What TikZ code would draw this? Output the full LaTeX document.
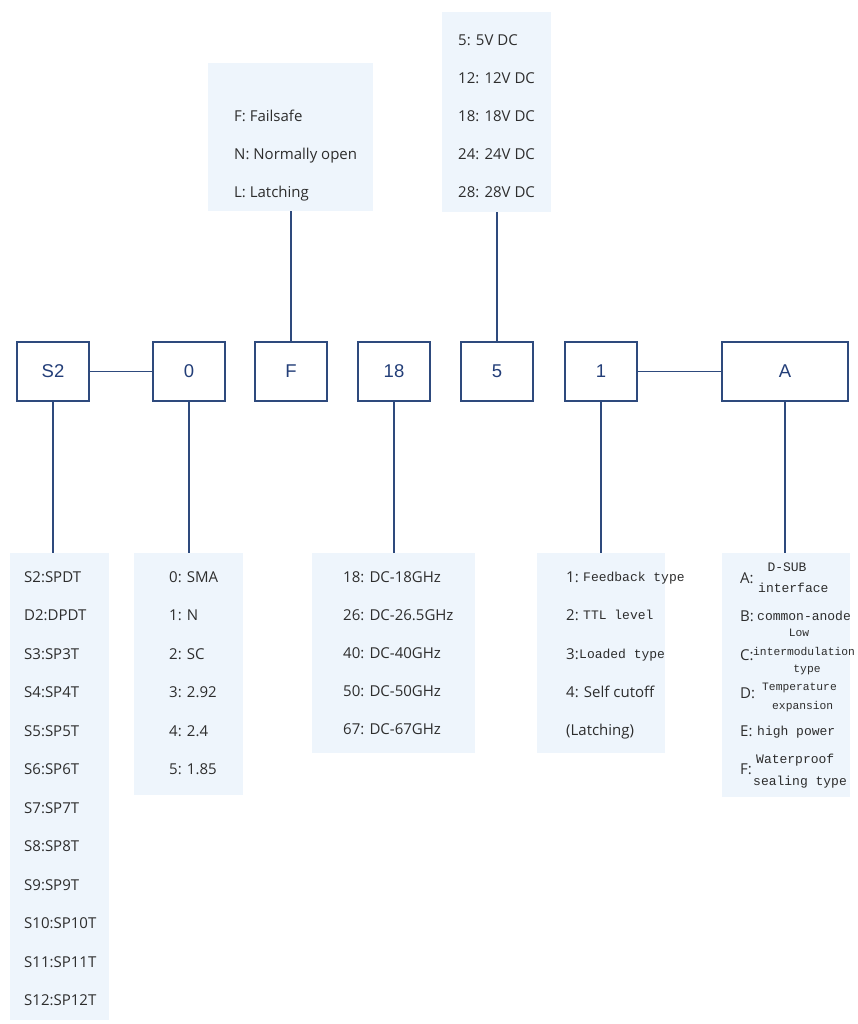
\documentclass[tikz,border=0pt]{standalone}
\usepackage{fontspec}
\setmainfont{Open Sans}
\newfontfamily\codefont{Liberation Sans}
\newfontfamily\monofont{Liberation Mono}
\usetikzlibrary{positioning}
\definecolor{linec}{RGB}{46,74,125}
\definecolor{codec}{RGB}{35,62,120}
\definecolor{boxfill}{RGB}{238,245,252}
\definecolor{optc}{RGB}{45,45,45}

\begin{document}
\begin{tikzpicture}[
		x=1pt, y=-1pt,
		code/.style={draw=linec, line width=1.3pt, minimum width=72pt, minimum height=59pt, inner sep=0, font=\codefont\fontsize{18.5}{22}\selectfont, text=codec},
		list/.style={fill=boxfill, inner sep=0, anchor=north},
		opt/.style={anchor=base west, inner sep=0, font=\fontsize{15}{18}\selectfont, text=optc},
		mono/.style={anchor=base west, inner sep=0, font=\monofont\fontsize{13}{15}\selectfont, text=optc},
		small/.style={anchor=base west, inner sep=0, font=\monofont\fontsize{11.3}{13}\selectfont, text=optc},
		link/.style={draw=linec, line width=1.3pt}
		]

		\useasboundingbox (0,0) rectangle (858,1024);

		% Code boxes
		\node[code] (sw) at (53,371.5) {S2};
		\node[code] (conn) at (189,371.5) {0};
		\node[code] (mode) at (291,371.5) {F};
		\node[code] (freq) at (394,371.5) {18};
		\node[code] (volt) at (497,371.5) {5};
		\node[code] (ctrl) at (601,371.5) {1};
		\node[code, minimum width=126pt] (extra) at (785,371.5) {A};

		% Option boxes
		\node[list, minimum width=165pt, minimum height=148pt] (modelist) at (290.5,63) {};
		\node[list, minimum width=109pt, minimum height=200pt] (voltlist) at (496.5,12) {};
		\node[list, minimum width=99pt, minimum height=467pt] (swlist) at (59.5,553) {};
		\node[list, minimum width=109pt, minimum height=242pt] (connlist) at (188.5,553) {};
		\node[list, minimum width=163pt, minimum height=200pt] (freqlist) at (393.5,553) {};
		\node[list, minimum width=128pt, minimum height=200pt] (ctrllist) at (601,553) {};
		\node[list, minimum width=128pt, minimum height=244pt] (extralist) at (786,553) {};

		% Options
		\foreach \t [count=\i from 0] in {F: Failsafe, N: Normally open, L: Latching}
			\node[opt] (mode-\i) at (234,{121.5+38*\i}) {\t};
		\foreach \t [count=\i from 0] in {5: 5V DC, 12: 12V DC, 18: 18V DC, 24: 24V DC, 28: 28V DC}
			\node[opt] (volt-\i) at (458,{45.5+38*\i}) {\t};
		\foreach \t [count=\i from 0] in {S2:SPDT, D2:DPDT, S3:SP3T, S4:SP4T, S5:SP5T, S6:SP6T, S7:SP7T, S8:SP8T, S9:SP9T, S10:SP10T, S11:SP11T, S12:SP12T}
			\node[opt] (sw-\i) at (24,{582.5+38.45*\i}) {\t};
		\foreach \t [count=\i from 0] in {0: SMA, 1: N, 2: SC, 3: 2.92, 4: 2.4, 5: 1.85}
			\node[opt] (conn-\i) at (169,{582.5+38.4*\i}) {\t};
		\foreach \t [count=\i from 0] in {18: DC-18GHz, 26: DC-26.5GHz, 40: DC-40GHz, 50: DC-50GHz, 67: DC-67GHz}
			\node[opt] (freq-\i) at (343,{582.5+38*\i}) {\t};

		\node[opt] (ctrl-0) at (566,582.5) {1:};
		\node[mono] (ctrl-0t) at (583,581.5) {Feedback type};
		\node[opt] (ctrl-1) at (566,620.5) {2:};
		\node[mono] (ctrl-1t) at (583,619.5) {TTL level};
		\node[opt] (ctrl-2) at (566,659.5) {3:};
		\node[mono] (ctrl-2t) at (579,658.5) {Loaded type};
		\node[opt] (ctrl-3) at (566,697.5) {4: Self cutoff};
		\node[opt] (ctrl-4) at (566,735.5) {(Latching)};

		\node[opt] (extra-a) at (740,583.5) {A:};
		\node[mono, anchor=base] (extra-a1) at (787,571.5) {D-SUB};
		\node[mono] (extra-a2) at (758,592) {interface};
		\node[opt] (extra-b) at (740,621.5) {B:};
		\node[mono] (extra-b1) at (757,620.5) {common-anode};
		\node[opt] (extra-c) at (740,660.5) {C:};
		\node[small, anchor=base] (extra-c1) at (799,636) {Low};
		\node[small] (extra-c2) at (753,655) {intermodulation};
		\node[small, anchor=base] (extra-c3) at (807,672) {type};
		\node[opt] (extra-d) at (740,698.5) {D:};
		\node[small] (extra-d1) at (762,690.5) {Temperature};
		\node[small] (extra-d2) at (772,709) {expansion};
		\node[opt] (extra-e) at (740,736.5) {E:};
		\node[mono] (extra-e1) at (757,735) {high power};
		\node[opt] (extra-f) at (740,774.5) {F:};
		\node[mono] (extra-f1) at (756,763) {Waterproof};
		\node[mono] (extra-f2) at (753,785) {sealing type};

		% Lines
		\draw[link] (sw) -- (conn);
		\draw[link] (ctrl) -- (extra);
		\draw[link] (mode) -- (mode.north |- modelist.south);
		\draw[link] (volt) -- (volt.north |- voltlist.south);
		\draw[link] (sw) -- (sw.south |- swlist.north);
		\draw[link] (conn) -- (conn.south |- connlist.north);
		\draw[link] (freq) -- (freq.south |- freqlist.north);
		\draw[link] (ctrl) -- (ctrl.south |- ctrllist.north);
		\draw[link] (extra) -- (extra.south |- extralist.north);

	\end{tikzpicture}
\end{document}
